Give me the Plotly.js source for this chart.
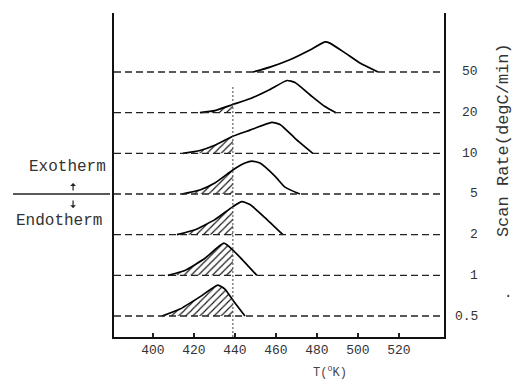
<!DOCTYPE html>
<html>
<head>
<meta charset="utf-8">
<script src="https://cdn.plot.ly/plotly-3.0.1.min.js"></script>
<style>html,body{margin:0;padding:0;background:#fff;}#chart{width:517px;height:391px;}</style>
</head>
<body>
<div id="chart"></div>
<script>
// Scan rates (degC/min), bottom to top
const rates = ['0.5', '1', '2', '5', '10', '20', '50'];
// x axis ticks (K)
const xTicks = [400, 420, 440, 460, 480, 500, 520];
// Temperature cutoff of the hatched (shaded) region, K
const hatchCutoff = 439;
const hatched = [true, true, true, true, true, true, false];

// Curves: temperature (K) and height above each baseline (baseline spacing = 1)
const T_05 = [404.4, 413.2, 422.9, 431.7, 435.1, 439.0, 444.9];
const H_05 = [0, 0.17, 0.47, 0.76, 0.66, 0.39, 0];
const T_1 = [407.3, 415.6, 425.4, 434.6, 439.0, 442.4, 450.7];
const H_1 = [0, 0.12, 0.42, 0.79, 0.62, 0.45, 0];
const T_2 = [411.7, 420.5, 430.2, 439.0, 443.4, 447.3, 454.6, 463.4];
const H_2 = [0, 0.12, 0.37, 0.69, 0.81, 0.74, 0.42, 0];
const T_5 = [414.1, 422.9, 430.2, 439.0, 444.9, 448.3, 452.2, 459.5, 464.4, 471.7];
const H_5 = [0, 0.10, 0.27, 0.59, 0.76, 0.81, 0.76, 0.44, 0.17, 0];
const T_10 = [414.6, 422.9, 430.2, 439.0, 447.3, 458.0, 462.0, 469.3, 478.0];
const H_10 = [0, 0.07, 0.20, 0.42, 0.57, 0.76, 0.71, 0.37, 0];
const T_20 = [422.9, 430.2, 439.0, 447.3, 457.1, 465.4, 469.3, 476.6, 483.9, 489.3];
const H_20 = [0, 0.05, 0.20, 0.34, 0.57, 0.79, 0.74, 0.44, 0.15, 0];
const T_50 = [448.8, 457.1, 466.8, 476.6, 483.9, 486.3, 493.7, 501.0, 509.8];
const H_50 = [0, 0.12, 0.30, 0.54, 0.74, 0.71, 0.47, 0.22, 0];

const curvesT = [T_05, T_1, T_2, T_5, T_10, T_20, T_50];
const curvesH = [H_05, H_1, H_2, H_5, H_10, H_20, H_50];

const xRange = [381, 542];
const yRange = [-0.516, 7.45];
const cutoffTop = 5.63;

const mono = 'Liberation Mono, DejaVu Sans Mono, monospace';
const traces = [];
const shapes = [];
const annotations = [];

curvesT.forEach((Ts, i) => {
  const Hs = curvesH[i];
  const ys = Hs.map(h => h + i);
  if (hatched[i]) {
    const hx = [], hy = [];
    Ts.forEach((t, k) => { if (t <= hatchCutoff) { hx.push(t); hy.push(ys[k]); } });
    hx.push(hatchCutoff); hy.push(i);
    traces.push({
      x: hx, y: hy, mode: 'lines', fill: 'toself', hoverinfo: 'skip',
      line: {width: 0, color: 'rgba(0,0,0,0)'},
      fillcolor: 'rgba(0,0,0,0)',
      fillpattern: {shape: '/', size: 5, solidity: 0.22, fgcolor: '#111', bgcolor: 'rgba(255,255,255,0)'},
      showlegend: false
    });
  }
  traces.push({
    x: Ts, y: ys, mode: 'lines', line: {color: '#000', width: 1.7, shape: 'spline', smoothing: 0.5},
    showlegend: false, hoverinfo: 'skip'
  });
  shapes.push({type: 'line', xref: 'paper', x0: 0, x1: 1, yref: 'y', y0: i, y1: i,
    line: {color: '#222', width: 1.3, dash: '7px,4px'}});
  annotations.push({xref: 'paper', x: (480 - 114) / 330, yref: 'y', y: i, text: rates[i],
    showarrow: false, xanchor: 'right', yanchor: 'middle',
    font: {family: mono, size: 13, color: '#333'}});
});

// vertical dotted cutoff line
traces.push({x: [hatchCutoff, hatchCutoff], y: [yRange[0], cutoffTop], mode: 'lines',
  line: {color: '#444', width: 1, dash: '2px,2px'}, showlegend: false, hoverinfo: 'skip'});

// Exotherm / Endotherm marker
shapes.push({type: 'line', xref: 'paper', x0: -0.306, x1: -0.012, yref: 'y', y0: 3, y1: 3,
  line: {color: '#222', width: 1.3}});
annotations.push({xref: 'paper', yref: 'paper', x: -0.142, y: 0.525, text: 'Exotherm', showarrow: false,
  xanchor: 'center', yanchor: 'middle', font: {family: mono, size: 16, color: '#333'}});
annotations.push({xref: 'paper', yref: 'paper', x: -0.167, y: 0.358, text: 'Endotherm', showarrow: false,
  xanchor: 'center', yanchor: 'middle', font: {family: mono, size: 16, color: '#333'}});
annotations.push({xref: 'paper', yref: 'paper', x: -0.124, y: 0.475, text: '', showarrow: true,
  ax: 0, ay: 9, arrowhead: 1, arrowsize: 0.8, arrowwidth: 1.2, arrowcolor: '#222'});
annotations.push({xref: 'paper', yref: 'paper', x: -0.124, y: 0.398, text: '', showarrow: true,
  ax: 0, ay: -9, arrowhead: 1, arrowsize: 0.8, arrowwidth: 1.2, arrowcolor: '#222'});

// right-side title
annotations.push({xref: 'paper', yref: 'paper', x: 1.179, y: 0.608, text: 'Scan Rate(degC/min)',
  textangle: -90, showarrow: false, xanchor: 'center', yanchor: 'middle',
  font: {family: mono, size: 17, color: '#333'}});
// x title
annotations.push({xref: 'paper', yref: 'paper', x: 0.655, y: -0.108, text: 'T(<sup>o</sup>K)',
  showarrow: false, xanchor: 'center', yanchor: 'middle', font: {family: mono, size: 12, color: '#444'}});
// stray dot
annotations.push({xref: 'paper', yref: 'paper', x: 1.194, y: 0.136, text: '.', showarrow: false,
  xanchor: 'center', yanchor: 'middle', font: {family: mono, size: 14, color: '#333'}});

const layout = {
  width: 517, height: 391,
  margin: {l: 114, r: 73, t: 13, b: 54},
  paper_bgcolor: '#fff', plot_bgcolor: '#fff',
  showlegend: false,
  xaxis: {range: xRange, tickvals: xTicks, ticktext: xTicks.map(String), ticks: 'inside', ticklen: 4,
    tickcolor: '#222', tickwidth: 1.2, showline: true, linecolor: '#111', linewidth: 1.6,
    showgrid: false, zeroline: false, tickfont: {family: mono, size: 13, color: '#333'}},
  yaxis: {range: yRange, showline: true, mirror: true, linecolor: '#111', linewidth: 1.6,
    showgrid: false, zeroline: false, showticklabels: false, ticks: ''},
  shapes: shapes,
  annotations: annotations
};

Plotly.newPlot('chart', traces, layout, {staticPlot: true, displayModeBar: false});
</script>
</body>
</html>
